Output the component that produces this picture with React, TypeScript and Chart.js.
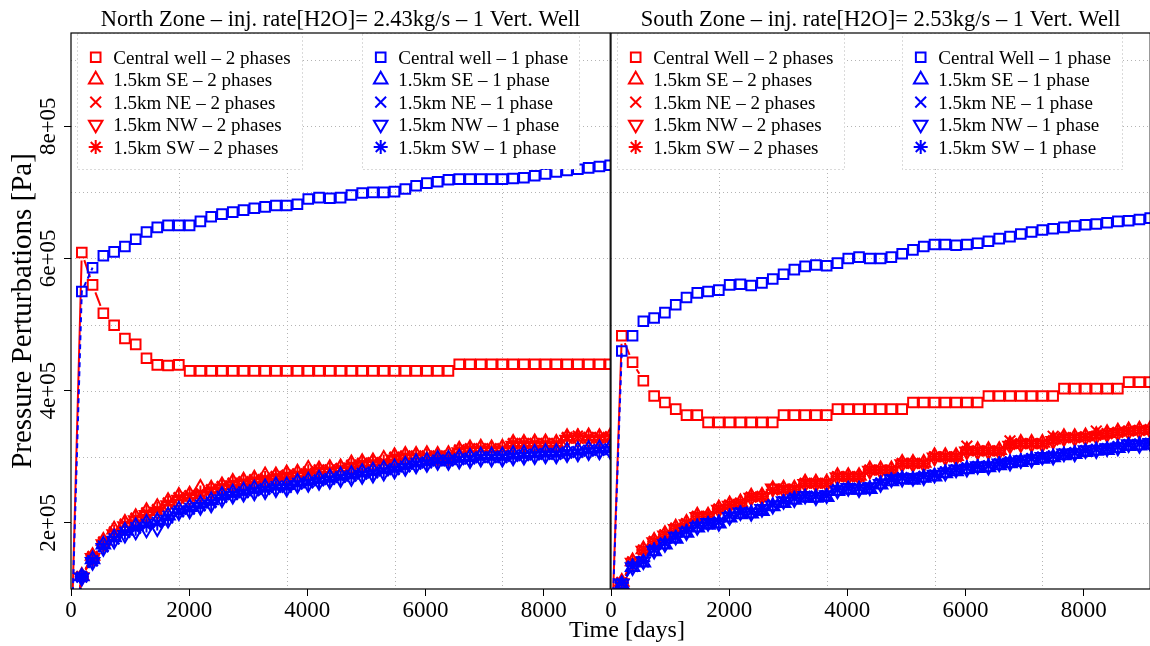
import React, { useEffect, useRef } from "react";
import { Chart, registerables } from "chart.js";
import { drawPoint } from "chart.js/helpers";

Chart.register(...registerables);

const FONT = "'Liberation Serif', 'Times New Roman', serif";
const RED = "#ff0000";
const BLUE = "#0000ff";
const GRID_COLOR = "#b4b4b4";

// ---------- axes ----------
const T_DAYS = [0, 182.5, 365, 547.5, 730, 912.5, 1095, 1277.5, 1460, 1642.5, 1825, 2007.5, 2190, 2372.5, 2555, 2737.5, 2920, 3102.5, 3285, 3467.5, 3650, 3832.5, 4015, 4197.5, 4380, 4562.5, 4745, 4927.5, 5110, 5292.5, 5475, 5657.5, 5840, 6022.5, 6205, 6387.5, 6570, 6752.5, 6935, 7117.5, 7300, 7482.5, 7665, 7847.5, 8030, 8212.5, 8395, 8577.5, 8760, 8942.5, 9125];
const X_MIN = 0;
const X_MAX = 9125;
const X_TICKS = [0, 2000, 4000, 6000, 8000];
const X_TICK_LABELS = ["0", "2000", "4000", "6000", "8000"];
const X_GRID = [1825, 3650, 5475, 7300];
const Y_MIN = 100000;
const Y_MAX = 941000;
const Y_TICKS = [200000, 400000, 600000, 800000];
const Y_TICK_LABELS = ["2e+05", "4e+05", "6e+05", "8e+05"];
const Y_GRID = [200000, 300000, 400000, 500000, 600000, 700000, 800000, 900000];

// ---------- North zone (Pa) ----------
const N_CENTRAL_2PH = [0, 609000, 560000, 517000, 499000, 479000, 470000, 449000, 439000, 438000, 439000,
  430000, 430000, 430000, 430000, 430000, 430000, 430000, 430000, 430000, 430000,
  430000, 430000, 430000, 430000, 430000, 430000, 430000, 430000, 430000, 430000,
  430000, 430000, 430000, 430000, 430000, 440000, 440000, 440000, 440000, 440000,
  440000, 440000, 440000, 440000, 440000, 440000, 440000, 440000, 440000, 440000];
const N_SE_2PH = [0, 120000, 150000, 173000, 190000, 200000, 209000, 218000, 224000, 233000, 241000,
  243000, 253000, 252000, 257000, 262000, 264000, 267000, 272000, 272000, 275000,
  276000, 282000, 281000, 283000, 284000, 290000, 292000, 293000, 297000, 301000,
  303000, 303000, 304000, 303000, 304000, 311000, 313000, 314000, 313000, 314000,
  321000, 321000, 322000, 322000, 321000, 330000, 330000, 331000, 330000, 331000];
const N_NE_2PH = [0, 119000, 148000, 170000, 185000, 197000, 206000, 214000, 219000, 229000, 237000,
  240000, 244000, 249000, 254000, 259000, 261000, 264000, 266000, 269000, 271000,
  273000, 276000, 279000, 279000, 281000, 286000, 289000, 290000, 291000, 298000,
  300000, 300000, 300000, 300000, 300000, 309000, 311000, 311000, 311000, 311000,
  319000, 319000, 319000, 319000, 319000, 328000, 328000, 328000, 328000, 329000];
const N_NW_2PH = [0, 118000, 147000, 168000, 183000, 195000, 204000, 212000, 217000, 227000, 235000,
  238000, 242000, 247000, 252000, 257000, 259000, 262000, 264000, 267000, 269000,
  271000, 274000, 277000, 277000, 279000, 284000, 287000, 288000, 289000, 296000,
  298000, 298000, 298000, 298000, 298000, 307000, 309000, 309000, 309000, 309000,
  317000, 317000, 317000, 317000, 317000, 326000, 326000, 326000, 326000, 327000];
const N_SW_2PH = [0, 119000, 150000, 172000, 187000, 199000, 208000, 216000, 221000, 231000, 239000,
  242000, 246000, 251000, 256000, 261000, 263000, 266000, 268000, 271000, 273000,
  275000, 278000, 281000, 281000, 283000, 288000, 291000, 292000, 293000, 300000,
  302000, 302000, 302000, 302000, 302000, 311000, 313000, 313000, 313000, 313000,
  321000, 321000, 321000, 321000, 321000, 330000, 332000, 330000, 330000, 331000];

const N_CENTRAL_1PH = [0, 550000, 586000, 604000, 610000, 618000, 629000, 640000, 647000, 650000, 650000,
  650000, 656000, 663000, 667000, 670000, 673000, 676000, 678000, 680000, 680000,
  682000, 690000, 692000, 691000, 692000, 696000, 699000, 700000, 700000, 701000,
  705000, 710000, 714000, 716000, 719000, 720000, 720000, 720000, 720000, 720000,
  721000, 722000, 725000, 728000, 731000, 733000, 735000, 737000, 739000, 741000];
const N_SE_1PH = [0, 119000, 145000, 167000, 178000, 188000, 195000, 200000, 203000, 211000, 220000,
  224000, 229000, 234000, 242000, 246000, 249000, 252000, 254000, 257000, 257000,
  262000, 264000, 267000, 269000, 272000, 274000, 277000, 279000, 282000, 284000,
  288000, 292000, 294000, 297000, 297000, 299000, 300000, 302000, 302000, 302000,
  304000, 305000, 306000, 307000, 307000, 309000, 310000, 312000, 313000, 314000];
const N_NE_1PH = [0, 118000, 143000, 165000, 176000, 186000, 193000, 198000, 201000, 210000, 218000,
  222000, 227000, 232000, 240000, 244000, 247000, 250000, 252000, 255000, 256000,
  260000, 262000, 265000, 267000, 270000, 272000, 275000, 277000, 280000, 282000,
  286000, 290000, 292000, 295000, 295000, 297000, 298000, 300000, 300000, 301000,
  302000, 303000, 304000, 305000, 305000, 307000, 308000, 310000, 311000, 312000];
const N_NW_1PH = [0, 117000, 141000, 162000, 173000, 182000, 187000, 190000, 192000, 205000, 216000,
  219000, 224000, 228000, 236000, 241000, 244000, 246000, 248000, 251000, 252000,
  257000, 259000, 262000, 264000, 266000, 268000, 271000, 273000, 276000, 279000,
  283000, 287000, 289000, 292000, 292000, 294000, 295000, 297000, 297000, 297000,
  299000, 300000, 301000, 302000, 302000, 304000, 305000, 307000, 308000, 309000];
const N_SW_1PH = [0, 118000, 142000, 163000, 175000, 185000, 191000, 196000, 199000, 207000, 216000,
  220000, 225000, 230000, 238000, 242000, 245000, 248000, 250000, 253000, 253000,
  258000, 260000, 263000, 265000, 268000, 270000, 273000, 275000, 278000, 280000,
  284000, 288000, 290000, 293000, 293000, 295000, 296000, 298000, 298000, 298000,
  300000, 301000, 302000, 303000, 303000, 305000, 306000, 308000, 309000, 310000];

// ---------- South zone (Pa) ----------
const S_CENTRAL_2PH = [0, 483000, 443000, 415000, 392000, 382000, 372000, 363000, 363000, 352000, 352000,
  352000, 352000, 352000, 352000, 352000, 363000, 363000, 363000, 363000, 363000,
  372000, 372000, 372000, 372000, 372000, 372000, 372000, 382000, 382000, 382000,
  382000, 382000, 382000, 382000, 392000, 392000, 392000, 392000, 392000, 392000,
  392000, 403000, 403000, 403000, 403000, 403000, 403000, 413000, 413000, 413000];
const S_SE_2PH = [0, 111000, 142000, 160000, 173000, 183000, 193000, 200000, 211000, 211000, 222000,
  228000, 231000, 240000, 241000, 251000, 252000, 252000, 261000, 261000, 261000,
  271000, 271000, 271000, 281000, 281000, 281000, 291000, 291000, 291000, 301000,
  301000, 301000, 310000, 310000, 310000, 310000, 319000, 321000, 321000, 321000,
  326000, 330000, 330000, 331000, 333000, 336000, 338000, 340000, 341000, 342000];
const S_NE_2PH = [0, 110000, 141000, 159000, 172000, 182000, 192000, 199000, 210000, 210000, 221000,
  227000, 230000, 239000, 240000, 250000, 251000, 251000, 260000, 260000, 260000,
  270000, 270000, 270000, 280000, 280000, 280000, 290000, 290000, 290000, 300000,
  300000, 300000, 316000, 309000, 309000, 309000, 324000, 320000, 320000, 320000,
  331000, 329000, 329000, 330000, 339000, 335000, 337000, 339000, 340000, 341000];
const S_NW_2PH = [0, 109000, 140000, 158000, 171000, 181000, 191000, 198000, 209000, 209000, 220000,
  226000, 229000, 238000, 239000, 252000, 250000, 250000, 259000, 259000, 259000,
  269000, 269000, 269000, 279000, 279000, 279000, 289000, 289000, 289000, 299000,
  299000, 299000, 308000, 308000, 308000, 308000, 317000, 319000, 319000, 319000,
  324000, 328000, 328000, 329000, 331000, 334000, 336000, 338000, 339000, 340000];
const S_SW_2PH = [0, 110000, 141000, 159000, 172000, 182000, 192000, 199000, 210000, 210000, 221000,
  227000, 230000, 239000, 240000, 250000, 251000, 251000, 260000, 260000, 260000,
  270000, 270000, 270000, 280000, 280000, 280000, 290000, 290000, 290000, 300000,
  300000, 300000, 309000, 309000, 309000, 309000, 318000, 320000, 320000, 320000,
  325000, 329000, 329000, 330000, 332000, 335000, 337000, 339000, 340000, 341000];

const S_CENTRAL_1PH = [0, 460000, 483000, 505000, 510000, 518000, 530000, 541000, 548000, 550000, 552000,
  560000, 561000, 559000, 563000, 569000, 576000, 583000, 588000, 590000, 589000,
  593000, 600000, 602000, 600000, 600000, 602000, 607000, 613000, 618000, 621000,
  621000, 620000, 621000, 623000, 626000, 630000, 633000, 637000, 640000, 643000,
  645000, 647000, 649000, 651000, 652000, 654000, 656000, 657000, 659000, 661000];
const S_SE_1PH = [0, 107000, 133000, 140000, 157000, 167000, 176000, 185000, 193000, 197000, 199000,
  208000, 213000, 214000, 218000, 225000, 230000, 235000, 238000, 238000, 239000,
  248000, 250000, 250000, 251000, 258000, 263000, 266000, 265000, 268000, 270000,
  275000, 278000, 281000, 283000, 284000, 287000, 290000, 292000, 295000, 297000,
  299000, 302000, 304000, 307000, 309000, 310000, 313000, 316000, 317000, 318000];
const S_NE_1PH = [0, 108000, 134000, 141000, 159000, 169000, 178000, 187000, 195000, 199000, 201000,
  210000, 215000, 216000, 220000, 227000, 232000, 237000, 240000, 240000, 241000,
  250000, 252000, 252000, 253000, 260000, 265000, 268000, 267000, 270000, 272000,
  277000, 280000, 283000, 285000, 286000, 289000, 292000, 294000, 297000, 299000,
  301000, 304000, 306000, 309000, 311000, 312000, 315000, 318000, 319000, 320000];
const S_NW_1PH = [0, 108000, 133000, 142000, 158000, 168000, 179000, 186000, 194000, 200000, 200000,
  209000, 216000, 215000, 221000, 226000, 233000, 236000, 241000, 239000, 242000,
  249000, 253000, 251000, 254000, 259000, 266000, 267000, 268000, 269000, 273000,
  276000, 281000, 282000, 286000, 285000, 290000, 291000, 295000, 296000, 300000,
  300000, 305000, 305000, 310000, 310000, 313000, 314000, 319000, 318000, 321000];
const S_SW_1PH = [0, 109000, 135000, 142000, 160000, 170000, 179000, 188000, 196000, 200000, 202000,
  211000, 216000, 217000, 221000, 228000, 233000, 238000, 241000, 241000, 242000,
  251000, 253000, 253000, 254000, 261000, 266000, 269000, 268000, 271000, 273000,
  278000, 281000, 284000, 286000, 287000, 290000, 293000, 295000, 298000, 300000,
  302000, 305000, 307000, 310000, 312000, 313000, 316000, 319000, 320000, 321000];

// ---------- labels ----------
const NORTH_TITLE = "North Zone – inj. rate[H2O]= 2.43kg/s – 1 Vert. Well";
const SOUTH_TITLE = "South Zone – inj. rate[H2O]= 2.53kg/s – 1 Vert. Well";
const NORTH_LABELS_2PH = ["Central well – 2 phases", "1.5km SE – 2 phases", "1.5km NE – 2 phases", "1.5km NW – 2 phases", "1.5km SW – 2 phases"];
const NORTH_LABELS_1PH = ["Central well – 1 phase", "1.5km SE – 1 phase", "1.5km NE – 1 phase", "1.5km NW – 1 phase", "1.5km SW – 1 phase"];
const SOUTH_LABELS_2PH = ["Central Well – 2 phases", "1.5km SE – 2 phases", "1.5km NE – 2 phases", "1.5km NW – 2 phases", "1.5km SW – 2 phases"];
const SOUTH_LABELS_1PH = ["Central Well – 1 phase", "1.5km SE – 1 phase", "1.5km NE – 1 phase", "1.5km NW – 1 phase", "1.5km SW – 1 phase"];
const Y_TITLE = "Pressure Perturbations [Pa]";
const X_TITLE = "Time [days]";

// marker styles (square, triangle, x, down-triangle, asterisk)
const MARKERS = [
  { pointStyle: "rect", rotation: 0, radius: 6.8 },
  { pointStyle: "triangle", rotation: 0, radius: 7.8 },
  { pointStyle: "crossRot", rotation: 0, radius: 7.6 },
  { pointStyle: "triangle", rotation: 180, radius: 7.8 },
  { pointStyle: "star", rotation: 0, radius: 7 },
];
const MARKER_LINE = 2;

type PanelDef = {
  title: string;
  red: number[][];
  blue: number[][];
  labels2: string[];
  labels1: string[];
  canvasLeft: number;
  width: number;
  padLeft: number;
  padRight: number;
  showY: boolean;
  showXTitle: boolean;
};

const PANELS: PanelDef[] = [
  {
    title: NORTH_TITLE,
    red: [N_CENTRAL_2PH, N_SE_2PH, N_NE_2PH, N_NW_2PH, N_SW_2PH],
    blue: [N_CENTRAL_1PH, N_SE_1PH, N_NE_1PH, N_NW_1PH, N_SW_1PH],
    labels2: NORTH_LABELS_2PH,
    labels1: NORTH_LABELS_1PH,
    canvasLeft: 0,
    width: 620,
    padLeft: 0,
    padRight: 9,
    showY: true,
    showXTitle: false,
  },
  {
    title: SOUTH_TITLE,
    red: [S_CENTRAL_2PH, S_SE_2PH, S_NE_2PH, S_NW_2PH, S_SW_2PH],
    blue: [S_CENTRAL_1PH, S_SE_1PH, S_NE_1PH, S_NW_1PH, S_SW_1PH],
    labels2: SOUTH_LABELS_2PH,
    labels1: SOUTH_LABELS_1PH,
    canvasLeft: 500,
    width: 660,
    padLeft: 111,
    padRight: 9,
    showY: false,
    showXTitle: true,
  },
];

const HEIGHT = 646;
const GAP = 8;

function makeDataset(label: string, values: number[], color: string, idx: number, dashed: boolean) {
  const m = MARKERS[idx];
  return {
    label,
    data: T_DAYS.map((t, i) => ({ x: t, y: values[i] })),
    borderColor: color,
    backgroundColor: "rgba(0,0,0,0)",
    borderWidth: 2,
    borderDash: dashed ? [5, 4] : [],
    pointStyle: m.pointStyle,
    pointRotation: m.rotation,
    pointRadius: m.radius,
    pointHoverRadius: m.radius,
    pointBorderWidth: MARKER_LINE,
    pointBorderColor: color,
    pointBackgroundColor: "rgba(0,0,0,0)",
    tension: 0,
    clip: 0,
    order: dashed ? 0 : 1,
    segment: {
      borderColor: (ctx: any) => {
        const d = Math.hypot(ctx.p1.x - ctx.p0.x, ctx.p1.y - ctx.p0.y);
        return d < 2 * GAP + 3 ? "rgba(0,0,0,0)" : undefined;
      },
      borderDash: (ctx: any) => {
        if (dashed) return undefined;
        const d = Math.hypot(ctx.p1.x - ctx.p0.x, ctx.p1.y - ctx.p0.y);
        if (d < 2 * GAP + 3) return undefined;
        // leave a small gap around each marker (type = "b" look)
        return [0, GAP, d - 2 * GAP, 2000];
      },
    },
  };
}

function decorPlugin(p: PanelDef) {
  return {
    id: "decor",
    beforeDatasetsDraw(chart: any) {
      const { ctx, chartArea: a, scales } = chart;
      ctx.save();
      ctx.beginPath();
      ctx.rect(a.left, a.top, a.right - a.left, a.bottom - a.top);
      ctx.clip();
      ctx.strokeStyle = GRID_COLOR;
      ctx.lineWidth = 1;
      ctx.setLineDash([1, 3]);
      ctx.beginPath();
      X_GRID.forEach((v) => {
        const px = Math.round(scales.x.getPixelForValue(v)) + 0.5;
        ctx.moveTo(px, a.top);
        ctx.lineTo(px, a.bottom);
      });
      Y_GRID.forEach((v) => {
        const py = Math.round(scales.y.getPixelForValue(v)) + 0.5;
        ctx.moveTo(a.left, py);
        ctx.lineTo(a.right, py);
      });
      ctx.stroke();
      ctx.restore();
    },
    afterDatasetsDraw(chart: any) {
      const { ctx, chartArea: a } = chart;
      ctx.save();
      const boxes = [
        { dx: 6, labels: p.labels2, color: RED },
        { dx: 291, labels: p.labels1, color: BLUE },
      ];
      ctx.font = `19px ${FONT}`;
      boxes.forEach((b) => {
        const maxW = Math.max(...b.labels.map((l) => ctx.measureText(l).width));
        const x0 = a.left + b.dx;
        const w = 36.5 + maxW + 11;
        const y0 = a.top;
        const h = 136;
        ctx.setLineDash([]);
        ctx.fillStyle = "#ffffff";
        ctx.fillRect(x0, y0, w, h);
        ctx.setLineDash([1, 3]);
        ctx.strokeStyle = GRID_COLOR;
        ctx.lineWidth = 1;
        ctx.strokeRect(Math.round(x0) + 0.5, y0 + 0.5, Math.round(w), h);
        ctx.setLineDash([]);
        b.labels.forEach((label, i) => {
          const cy = a.top + 24.2 + i * 22.45;
          const m = MARKERS[i];
          ctx.strokeStyle = b.color;
          ctx.fillStyle = "rgba(0,0,0,0)";
          ctx.lineWidth = MARKER_LINE;
          drawPoint(ctx, { pointStyle: m.pointStyle, rotation: m.rotation, radius: m.radius, borderWidth: MARKER_LINE }, x0 + 18.7, cy);
          ctx.fillStyle = "#000";
          ctx.textAlign = "left";
          ctx.textBaseline = "alphabetic";
          ctx.fillText(label, x0 + 36.3, cy + 6.5);
        });
      });
      ctx.setLineDash([]);
      ctx.strokeStyle = "#000";
      ctx.lineWidth = 1.2;
      ctx.strokeRect(a.left, a.top, a.right - a.left, a.bottom - a.top);
      ctx.restore();
    },
    afterDraw(chart: any) {
      const { ctx, chartArea: a, scales } = chart;
      ctx.save();
      ctx.fillStyle = "#000";
      ctx.font = `22.5px ${FONT}`;
      ctx.textAlign = "center";
      ctx.textBaseline = "alphabetic";
      ctx.fillText(p.title, (a.left + a.right) / 2, 26);
      if (p.showY) {
        ctx.font = `23px ${FONT}`;
        Y_TICKS.forEach((v, i) => {
          const py = scales.y.getPixelForValue(v);
          ctx.save();
          ctx.translate(a.left - 16, py);
          ctx.rotate(-Math.PI / 2);
          ctx.textAlign = "center";
          ctx.fillText(Y_TICK_LABELS[i], 0, 0);
          ctx.restore();
        });
      }
      if (p.showXTitle) {
        ctx.font = `24px ${FONT}`;
        ctx.textAlign = "center";
        ctx.fillText(X_TITLE, a.left + 16, 637);
      }
      ctx.restore();
    },
  };
}

function Panel({ p }: { p: PanelDef }) {
  const ref = useRef<HTMLCanvasElement | null>(null);
  useEffect(() => {
    const canvas = ref.current;
    if (!canvas) return;
    const datasets: any[] = [];
    p.red.forEach((vals, i) => datasets.push(makeDataset(p.labels2[i], vals, RED, i, false)));
    p.blue.forEach((vals, i) => datasets.push(makeDataset(p.labels1[i], vals, BLUE, i, true)));
    const chart = new Chart(canvas, {
      type: "line",
      data: { datasets },
      options: {
        responsive: false,
        animation: false,
        events: [],
        layout: { padding: { left: p.padLeft, right: p.padRight, top: 33, bottom: 0 } },
        plugins: {
          legend: { display: false },
          tooltip: { enabled: false },
          title: { display: false },
        },
        scales: {
          x: {
            type: "linear",
            min: X_MIN,
            max: X_MAX,
            afterBuildTicks: (s: any) => {
              s.ticks = X_TICKS.map((v) => ({ value: v }));
            },
            afterFit: (s: any) => {
              s.height = 57;
            },
            ticks: {
              autoSkip: false,
              maxRotation: 0,
              minRotation: 0,
              padding: 1,
              color: "#000",
              font: { family: FONT, size: 23 },
              callback: (_v: any, i: number) => X_TICK_LABELS[i],
            },
            grid: { display: true, drawOnChartArea: false, drawTicks: true, tickLength: 7, color: "#000", lineWidth: 1 },
            border: { display: false },
          },
          y: {
            type: "linear",
            display: p.showY,
            min: Y_MIN,
            max: Y_MAX,
            afterBuildTicks: (s: any) => {
              s.ticks = Y_TICKS.map((v) => ({ value: v }));
            },
            afterFit: (s: any) => {
              s.width = p.showY ? 71 : 0;
            },
            ticks: { display: false },
            grid: { display: true, drawOnChartArea: false, drawTicks: true, tickLength: 7, color: "#000", lineWidth: 1 },
            border: { display: false },
            title: {
              display: true,
              text: Y_TITLE,
              color: "#000",
              font: { family: FONT, size: 29 },
              padding: { top: 6, bottom: 0 },
            },
          },
        },
      },
      plugins: [decorPlugin(p)],
    } as any);
    return () => chart.destroy();
  }, [p]);
  return (
    <canvas
      ref={ref}
      width={p.width}
      height={HEIGHT}
      style={{ position: "absolute", left: p.canvasLeft, top: 0, width: p.width, height: HEIGHT }}
    />
  );
}

export default function App() {
  return (
    <div
      style={{
        position: "absolute",
        left: 0,
        top: 0,
        width: 1150,
        height: HEIGHT,
        overflow: "hidden",
        background: "#ffffff",
      }}
    >
      {PANELS.map((p, i) => (
        <Panel key={i} p={p} />
      ))}
    </div>
  );
}
